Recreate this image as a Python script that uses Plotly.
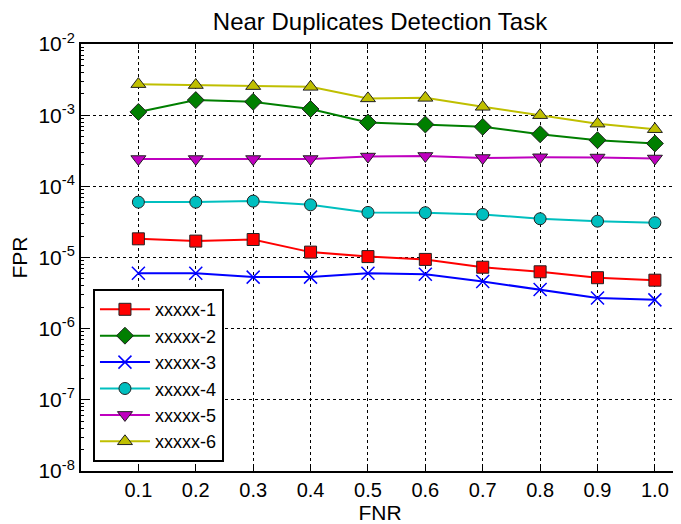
import plotly.graph_objects as go

fnr = [0.1, 0.2, 0.3, 0.4, 0.5, 0.6, 0.7, 0.8, 0.9, 1.0]
x_ticktext = ["0.1", "0.2", "0.3", "0.4", "0.5", "0.6", "0.7", "0.8", "0.9", "1.0"]

s1 = [1.83e-5, 1.70e-5, 1.79e-5, 1.19e-5, 1.03e-5, 9.4e-6, 7.3e-6, 6.3e-6, 5.2e-6, 4.8e-6]
s2 = [1.11e-3, 1.63e-3, 1.54e-3, 1.22e-3, 7.9e-4, 7.4e-4, 6.85e-4, 5.4e-4, 4.45e-4, 4.0e-4]
s3 = [6.0e-6, 6.0e-6, 5.3e-6, 5.3e-6, 6.0e-6, 5.8e-6, 4.6e-6, 3.55e-6, 2.7e-6, 2.54e-6]
s4 = [6.0e-5, 6.0e-5, 6.2e-5, 5.5e-5, 4.3e-5, 4.26e-5, 4.03e-5, 3.5e-5, 3.24e-5, 3.08e-5]
s5 = [2.42e-4, 2.42e-4, 2.42e-4, 2.42e-4, 2.62e-4, 2.67e-4, 2.5e-4, 2.56e-4, 2.54e-4, 2.46e-4]
s6 = [2.73e-3, 2.65e-3, 2.56e-3, 2.50e-3, 1.72e-3, 1.75e-3, 1.31e-3, 1.0e-3, 7.6e-4, 6.35e-4]

names = ["xxxxx-1", "xxxxx-2", "xxxxx-3", "xxxxx-4", "xxxxx-5", "xxxxx-6"]
y_tickvals = [1e-8, 1e-7, 1e-6, 1e-5, 1e-4, 1e-3, 1e-2]
y_ticktext = ["10<sup>-8</sup>", "10<sup>-7</sup>", "10<sup>-6</sup>", "10<sup>-5</sup>",
              "10<sup>-4</sup>", "10<sup>-3</sup>", "10<sup>-2</sup>"]
minor_vals = [m * d for d in y_tickvals[:-1] for m in range(2, 10)]

styles = [
    dict(color="#FF0000", symbol="square", size=12),
    dict(color="#007F00", symbol="diamond", size=13),
    dict(color="#0000FF", symbol="x-thin", size=13),
    dict(color="#00BFBF", symbol="circle", size=12),
    dict(color="#BF00BF", symbol="triangle-down", size=13),
    dict(color="#BFBF00", symbol="triangle-up", size=13),
]

fig = go.Figure()
for name, ys, st in zip(names, [s1, s2, s3, s4, s5, s6], styles):
    if st["symbol"] == "x-thin":
        mline = dict(color=st["color"], width=1.5)
    else:
        mline = dict(color="#222222", width=1)
    fig.add_trace(go.Scatter(
        x=fnr, y=ys, name=name, mode="lines+markers",
        line=dict(color=st["color"], width=2),
        marker=dict(symbol=st["symbol"], size=st["size"], color=st["color"], line=mline),
    ))

# The page body has an 8px margin, so the figure is sized to the visible area.
fig.update_layout(
    width=673, height=516,
    margin=dict(l=73, r=2, t=36, b=53, autoexpand=False),
    paper_bgcolor="white", plot_bgcolor="white",
    font=dict(family="Liberation Sans, Arial", size=20, color="black"),
    title=dict(text="Near Duplicates Detection Task", x=0.5, xanchor="center",
               xref="paper", y=0.974, yanchor="middle", font=dict(size=24)),
    showlegend=True,
    legend=dict(x=0.02, y=0.426, xanchor="left", yanchor="top",
                bgcolor="white", bordercolor="black", borderwidth=2,
                font=dict(size=18), itemwidth=50, tracegroupgap=0),
)
fig.update_xaxes(
    range=[0, 1.042], tickvals=fnr, ticktext=x_ticktext, automargin=False,
    showline=True, linecolor="black", linewidth=2, mirror="allticks",
    ticks="inside", ticklen=5, tickcolor="black",
    tickfont=dict(size=20),
    showgrid=True, gridcolor="black", griddash="dot", gridwidth=1,
    zeroline=False, title=dict(text="FNR", standoff=7, font=dict(size=21)),
)
fig.update_yaxes(
    type="log", range=[-8, -2], tickvals=y_tickvals, ticktext=y_ticktext, automargin=False,
    showline=True, linecolor="black", linewidth=2, mirror="allticks",
    ticks="inside", ticklen=6, tickcolor="black", tickfont=dict(size=21),
    showgrid=True, gridcolor="black", griddash="dot", gridwidth=1,
    zeroline=False, title=dict(text="FPR", standoff=16, font=dict(size=21)),
    minor=dict(ticks="inside", ticklen=3, tickcolor="black", showgrid=False,
               tickmode="array", tickvals=minor_vals),
)

fig.write_html("out.html")
